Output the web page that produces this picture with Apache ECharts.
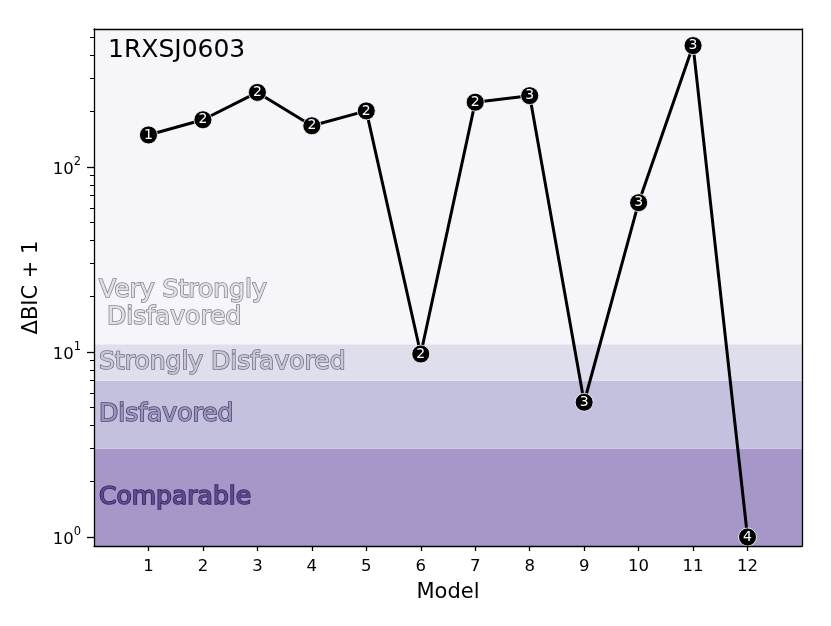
<!DOCTYPE html>
<html>
<head>
<meta charset="utf-8">
<script src="https://cdn.jsdelivr.net/npm/echarts@6/dist/echarts.min.js"></script>
<style>
  html, body { margin: 0; padding: 0; background: #fff; }
  #chart { width: 831px; height: 626px; }
</style>
</head>
<body>
<div id="chart"></div>
<script>
// data
const models = [1, 2, 3, 4, 5, 6, 7, 8, 9, 10, 11, 12];
const dbic = [149, 180, 253, 167, 201, 9.75, 224, 243, 5.35, 64.1, 453, 1.0];
const nParams = ["1", "2", "2", "2", "2", "2", "2", "3", "3", "3", "3", "4"];
const bandEdges = [0.894, 3, 7, 11, 557];
const bandNames = ["Comparable", "Disfavored", "Strongly Disfavored", "Very Strongly\n Disfavored"];
const majorTicks = [1, 10, 100];
const minorTicks = [2, 3, 4, 5, 6, 7, 8, 9, 20, 30, 40, 50, 60, 70, 80, 90, 200, 300, 400, 500];

const font = "DejaVu Sans";
const bandFill = ["#a796c8", "#c4c1de", "#dfdeed", "#f6f5fa"];
const bandText = ["#5c4a93", "#9e94c0", "#c9c7da", "#e2e1ea"];
const bandStroke = ["#35275e", "#4f496c", "#767484", "#86868f"];

const chart = echarts.init(document.getElementById("chart"));

const areas = bandNames.map(function (name, i) {
  const top = i === bandNames.length - 1;
  return [
    {
      name: name,
      yAxis: bandEdges[i],
      itemStyle: { color: bandFill[i], opacity: 1 },
      label: {
        show: true,
        position: top ? "insideBottomLeft" : "insideLeft",
        distance: 5,
        offset: top ? [0, -8] : [0, 0],
        fontFamily: font,
        fontSize: 25,
        lineHeight: 27,
        color: bandText[i],
        textBorderColor: bandStroke[i],
        textBorderWidth: 1.6,
      },
    },
    { yAxis: bandEdges[i + 1] },
  ];
});

const supers = { 1: "0", 10: "1", 100: "2" };

const option = {
  animation: false,
  title: {
    text: "1RXSJ0603",
    left: 108,
    top: 38,
    padding: 0,
    textStyle: { fontFamily: font, fontSize: 25, fontWeight: "normal", color: "#000" },
  },
  grid: { left: 94, right: 29, top: 29, bottom: 80, containLabel: false },
  xAxis: [
    {
      type: "value",
      min: 0,
      max: 13,
      interval: 1,
      z: 10,
      name: "Model",
      nameLocation: "middle",
      nameGap: 36,
      nameTextStyle: { fontFamily: font, fontSize: 21, color: "#000" },
      axisLine: { show: true, lineStyle: { color: "#000", width: 1.3 } },
      axisTick: { show: true, customValues: models, length: 5, lineStyle: { color: "#000", width: 1.3 } },
      axisLabel: { customValues: models, margin: 12, fontFamily: font, fontSize: 16.5, color: "#000" },
      splitLine: { show: false },
    },
    {
      type: "value",
      position: "top",
      min: 0,
      max: 13,
      z: 10,
      axisLine: { show: true, lineStyle: { color: "#000", width: 1.3 } },
      axisTick: { show: false },
      axisLabel: { show: false },
      splitLine: { show: false },
    },
  ],
  yAxis: [
    {
      type: "log",
      logBase: 10,
      min: bandEdges[0],
      max: bandEdges[bandEdges.length - 1],
      z: 10,
      name: "ΔBIC + 1",
      nameLocation: "middle",
      nameGap: 52,
      nameTextStyle: { fontFamily: font, fontSize: 21, color: "#000" },
      axisLine: { show: true, lineStyle: { color: "#000", width: 1.3 } },
      axisTick: { show: true, customValues: majorTicks, length: 7, lineStyle: { color: "#000", width: 1.3 } },
      axisLabel: {
        customValues: majorTicks,
        margin: 13,
        formatter: function (v) {
          return "{m|10}{s|" + supers[Math.round(v)] + "}";
        },
        rich: {
          m: { fontFamily: font, fontSize: 16.5, color: "#000", lineHeight: 22, verticalAlign: "bottom" },
          s: { fontFamily: font, fontSize: 11.5, color: "#000", lineHeight: 22, verticalAlign: "top" },
        },
      },
      splitLine: { show: false },
    },
    {
      type: "log",
      logBase: 10,
      position: "left",
      min: bandEdges[0],
      max: bandEdges[bandEdges.length - 1],
      z: 10,
      axisLine: { show: false },
      axisTick: { show: true, customValues: minorTicks, length: 4, lineStyle: { color: "#000", width: 1 } },
      axisLabel: { show: false },
      splitLine: { show: false },
    },
    {
      type: "log",
      logBase: 10,
      position: "right",
      min: bandEdges[0],
      max: bandEdges[bandEdges.length - 1],
      z: 10,
      axisLine: { show: true, lineStyle: { color: "#000", width: 1.3 } },
      axisTick: { show: false },
      axisLabel: { show: false },
      splitLine: { show: false },
    },
  ],
  series: [
    {
      type: "line",
      xAxisIndex: 0,
      yAxisIndex: 0,
      data: models.map(function (m, i) { return [m, dbic[i]]; }),
      lineStyle: { color: "#000", width: 3 },
      symbol: "circle",
      symbolSize: 18,
      itemStyle: { color: "#000", borderColor: "#fff", borderWidth: 0.8 },
      label: {
        show: true,
        position: "inside",
        formatter: function (p) { return nParams[p.dataIndex]; },
        fontFamily: font,
        fontSize: 14,
        color: "#fff",
      },
      markArea: { silent: true, data: areas },
      z: 5,
    },
  ],
};

chart.setOption(option);
window.onresize = function () {
  chart.resize();
};
</script>
</body>
</html>
